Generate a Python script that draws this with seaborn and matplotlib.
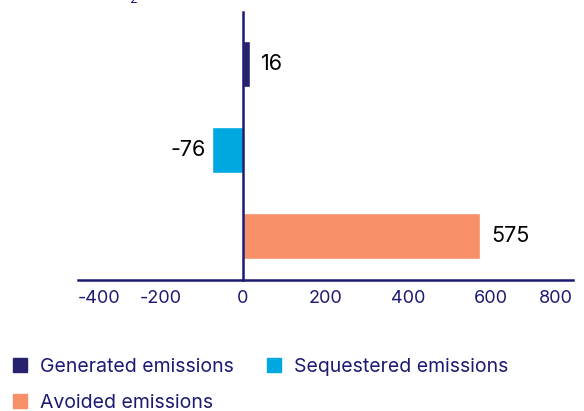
import matplotlib
matplotlib.use("Agg")
import matplotlib.pyplot as plt
import seaborn as sns
import pandas as pd
from matplotlib.lines import Line2D

# data
kategoriler = ['Generated emissions', 'Sequestered emissions', 'Avoided emissions']
degerler = [16, -76, 575]
renkler = ['#27226e', '#00a8e1', '#f79069']
x_ticks = [-400, -200, 0, 200, 400, 600, 800]

navy = '#1c1a72'

sns.set_theme(style="white")
plt.rcParams['font.family'] = ['Inter', 'DejaVu Sans']

df = pd.DataFrame({'kategori': kategoriler, 'deger': degerler})

fig = plt.figure(figsize=(5.84, 4.11), dpi=100)
ax = fig.add_axes([0.1336, 0.3187, 0.8476, 0.652])

sns.barplot(data=df, x='deger', y='kategori', hue='kategori', palette=renkler,
            orient='h', width=0.535, legend=False, ax=ax, saturation=1)

ax.set_xlim(-400, 800)
ax.set_ylim(2.51, -0.6)
ax.set_xticks(x_ticks)
ax.set_xticklabels([str(t) for t in x_ticks])
labels = ax.get_xticklabels()
labels[0].set_ha('left')
labels[-1].set_ha('right')
ax.tick_params(axis='x', length=0, pad=7, labelsize=13, labelcolor=navy)
ax.set_yticks([])
ax.set_xlabel('')
ax.set_ylabel('')

for s in ['top', 'right']:
    ax.spines[s].set_visible(False)
ax.spines['left'].set_position(('data', 0))
ax.spines['left'].set_color(navy)
ax.spines['left'].set_linewidth(1.8)
ax.spines['bottom'].set_color(navy)
ax.spines['bottom'].set_linewidth(1.8)

# değer etiketleri
for i, v in enumerate(degerler):
    if v >= 0:
        ax.annotate(f"{v}", (v, i), xytext=(8, 0), textcoords='offset points',
                    ha='left', va='center', fontsize=15.5, color='black')
    else:
        ax.annotate(f"{v}", (v, i), xytext=(-4, 0), textcoords='offset points',
                    ha='right', va='center', fontsize=15.5, color='black')

# legend
handles = [Line2D([], [], marker='s', linestyle='', markersize=10.5,
                  markerfacecolor=c, markeredgecolor=c) for c in renkler]
order = [0, 2, 1]
fig.legend([handles[i] for i in order], [kategoriler[i] for i in order],
           loc='upper left', bbox_to_anchor=(-0.012, 0.172), ncol=2, frameon=False,
           fontsize=14, labelcolor=navy, handletextpad=0.5, columnspacing=1.6,
           labelspacing=0.95, handlelength=1.0)

# üstte kesik başlık parçası
fig.text(0.222, 1.0, "2", fontsize=9, color=navy, ha='left', va='center')

fig.savefig('out.png', dpi=100)
